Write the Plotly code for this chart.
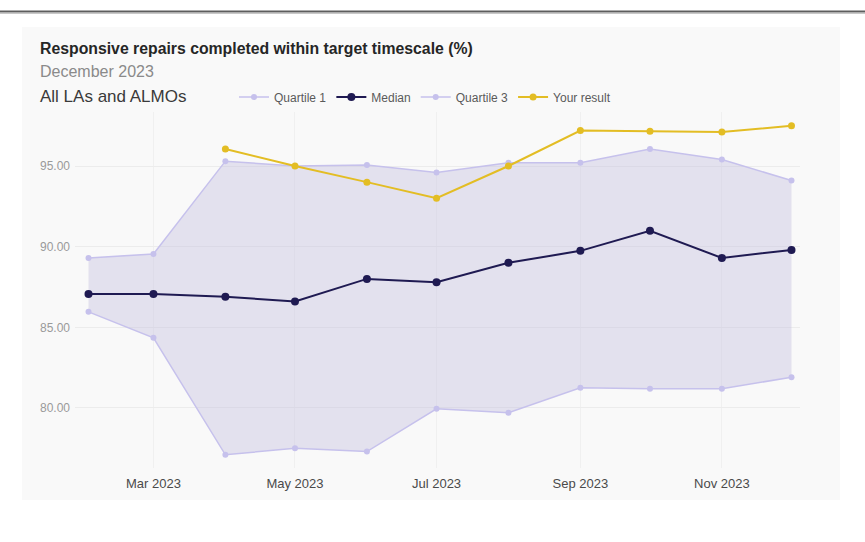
import plotly.graph_objects as go

months = ["2023-02-01", "2023-03-01", "2023-04-01", "2023-05-01", "2023-06-01", "2023-07-01",
          "2023-08-01", "2023-09-01", "2023-10-01", "2023-11-01", "2023-12-01"]
quartile1 = [85.96, 84.35, 77.1, 77.5, 77.3, 79.95, 79.7, 81.25, 81.2, 81.2, 81.9]
median = [87.07, 87.07, 86.9, 86.6, 88.0, 87.8, 89.0, 89.74, 90.98, 89.3, 89.8]
quartile3 = [89.3, 89.55, 95.3, 95.0, 95.06, 94.6, 95.2, 95.2, 96.05, 95.4, 94.1]
your_months = months[2:]
your_result = [96.05, 95.0, 94.0, 93.0, 95.0, 97.2, 97.15, 97.1, 97.5]

title = "Responsive repairs completed within target timescale (%)"
subtitle = "December 2023"
group_label = "All LAs and ALMOs"

Q_COL = "#c6c1ec"
FILL_COL = "rgba(200,196,224,0.45)"
MED_COL = "#1f1a52"
YOU_COL = "#e3bd24"
FONT = "Liberation Sans, Arial, sans-serif"

fig = go.Figure()
# shaded band between quartiles (not in legend)
fig.add_trace(go.Scatter(x=months, y=quartile1, mode="lines", line=dict(width=0, color=Q_COL),
                         showlegend=False, hoverinfo="skip"))
fig.add_trace(go.Scatter(x=months, y=quartile3, mode="lines", line=dict(width=0, color=Q_COL),
                         fill="tonexty", fillcolor=FILL_COL, showlegend=False, hoverinfo="skip"))
fig.add_trace(go.Scatter(x=months, y=quartile1, name="Quartile 1", mode="lines+markers",
                         line=dict(color=Q_COL, width=1.5), marker=dict(color=Q_COL, size=6)))
fig.add_trace(go.Scatter(x=months, y=median, name="Median", mode="lines+markers",
                         line=dict(color=MED_COL, width=2), marker=dict(color=MED_COL, size=8)))
fig.add_trace(go.Scatter(x=months, y=quartile3, name="Quartile 3", mode="lines+markers",
                         line=dict(color=Q_COL, width=1.5), marker=dict(color=Q_COL, size=6)))
fig.add_trace(go.Scatter(x=your_months, y=your_result, name="Your result", mode="lines+markers",
                         line=dict(color=YOU_COL, width=2), marker=dict(color=YOU_COL, size=7)))

# page-pixel geometry of the plot area: x 75..800, y 112..468 (body margin removed below)
FW, FH = 865, 542
L, R, T, B = 75, 800, 112, 468
W, H = R - L, B - T
def px(x):
    return (x - L) / W
def py(y):
    return (B - y) / H

fig.add_shape(type="rect", xref="paper", yref="paper", x0=px(22), x1=px(840), y0=py(500), y1=py(27),
              fillcolor="#f9f9f9", line=dict(width=0), layer="below")
fig.add_shape(type="line", xref="paper", yref="paper", x0=px(0), x1=px(865), y0=py(11.5), y1=py(11.5),
              line=dict(color="#5e5e5e", width=2))
fig.add_shape(type="line", xref="paper", yref="paper", x0=px(0), x1=px(865), y0=py(13.5), y1=py(13.5),
              line=dict(color="#c8c8c8", width=1))

fig.add_annotation(text="<b>" + title + "</b>", xref="paper", yref="paper", x=px(38), y=py(48),
                   xanchor="left", yanchor="middle", showarrow=False,
                   font=dict(family=FONT, size=15.8, color="#262626"))
fig.add_annotation(text=subtitle, xref="paper", yref="paper", x=px(38), y=py(71),
                   xanchor="left", yanchor="middle", showarrow=False,
                   font=dict(family=FONT, size=16, color="#8a8a8a"))
fig.add_annotation(text=group_label, xref="paper", yref="paper", x=px(38), y=py(97),
                   xanchor="left", yanchor="middle", showarrow=False,
                   font=dict(family=FONT, size=17, color="#3a3a3a"))

fig.update_layout(
    width=FW, height=FH,
    margin=dict(l=L, r=FW - R, t=T, b=FH - B),
    paper_bgcolor="white", plot_bgcolor="#f9f9f9",
    font=dict(family=FONT, color="#555555"),
    legend=dict(orientation="h", x=px(234), y=py(97), xanchor="left", yanchor="middle",
                bgcolor="rgba(0,0,0,0)", font=dict(size=12, color="#5a5a5a", family=FONT),
                traceorder="normal", itemwidth=30, tracegroupgap=0),
    showlegend=True,
    xaxis=dict(type="date", range=["2023-01-26 04:20", "2023-12-04 16:00"],
               tick0="2023-03-01", dtick="M2", tickformat="%b %Y",
               showgrid=True, gridcolor="#f0f0f0", zeroline=False, showline=False,
               tickfont=dict(size=13, color="#4a4a4a"), ticklabelstandoff=6),
    yaxis=dict(range=[76.28, 98.347], tick0=80, dtick=5, tickformat=".2f",
               showgrid=True, gridcolor="#ececec", zeroline=False, showline=False,
               tickfont=dict(size=12, color="#9a9a9a"), ticklabelstandoff=4),
)

fig.write_html("out.html", config={"displayModeBar": False},
               post_script="document.body.style.margin='0';document.body.style.overflow='hidden';")
